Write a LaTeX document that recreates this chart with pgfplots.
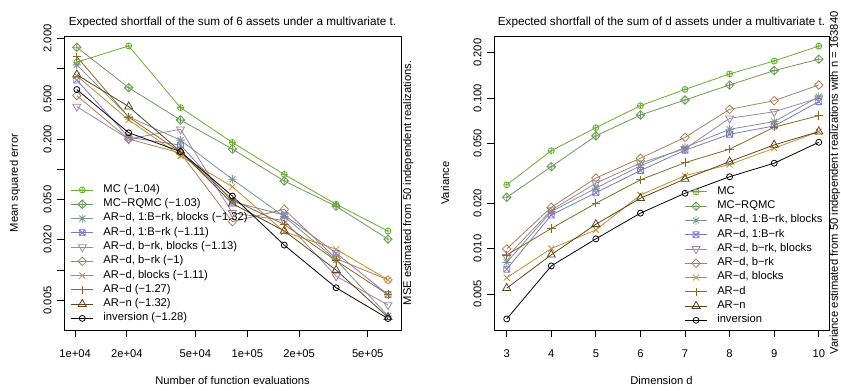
\documentclass[border=0pt]{standalone}
\usepackage{pgfplots}
\pgfplotsset{compat=1.18}
\usepackage{fontspec}
\setmainfont{Liberation Sans}
\definecolor{cMC}{RGB}{106,176,46}
\definecolor{cRQ}{RGB}{110,155,90}
\definecolor{cAst}{RGB}{125,148,145}
\definecolor{cSq}{RGB}{122,122,200}
\definecolor{cTd}{RGB}{155,135,160}
\definecolor{cDi}{RGB}{170,130,90}
\definecolor{cX}{RGB}{200,140,40}
\definecolor{cPl}{RGB}{140,104,34}
\definecolor{cTr}{RGB}{90,70,32}
\pgfdeclareplotmark{Rcirc}{\pgfpathcircle{\pgfpointorigin}{\pgfplotmarksize}\pgfusepathqstroke}
\pgfdeclareplotmark{Roplus}{\pgfpathcircle{\pgfpointorigin}{\pgfplotmarksize}%
 \pgfpathmoveto{\pgfqpoint{-\pgfplotmarksize}{0pt}}\pgfpathlineto{\pgfqpoint{\pgfplotmarksize}{0pt}}%
 \pgfpathmoveto{\pgfqpoint{0pt}{-\pgfplotmarksize}}\pgfpathlineto{\pgfqpoint{0pt}{\pgfplotmarksize}}\pgfusepathqstroke}
\pgfdeclareplotmark{Rdiam}{%
 \pgfpathmoveto{\pgfqpoint{0pt}{1.414\pgfplotmarksize}}\pgfpathlineto{\pgfqpoint{1.414\pgfplotmarksize}{0pt}}%
 \pgfpathlineto{\pgfqpoint{0pt}{-1.414\pgfplotmarksize}}\pgfpathlineto{\pgfqpoint{-1.414\pgfplotmarksize}{0pt}}\pgfpathclose\pgfusepathqstroke}
\pgfdeclareplotmark{Rdiamplus}{%
 \pgfpathmoveto{\pgfqpoint{0pt}{1.414\pgfplotmarksize}}\pgfpathlineto{\pgfqpoint{1.414\pgfplotmarksize}{0pt}}%
 \pgfpathlineto{\pgfqpoint{0pt}{-1.414\pgfplotmarksize}}\pgfpathlineto{\pgfqpoint{-1.414\pgfplotmarksize}{0pt}}\pgfpathclose
 \pgfpathmoveto{\pgfqpoint{-1.414\pgfplotmarksize}{0pt}}\pgfpathlineto{\pgfqpoint{1.414\pgfplotmarksize}{0pt}}%
 \pgfpathmoveto{\pgfqpoint{0pt}{-1.414\pgfplotmarksize}}\pgfpathlineto{\pgfqpoint{0pt}{1.414\pgfplotmarksize}}\pgfusepathqstroke}
\pgfdeclareplotmark{Rboxx}{%
 \pgfpathrectangle{\pgfqpoint{-\pgfplotmarksize}{-\pgfplotmarksize}}{\pgfqpoint{2\pgfplotmarksize}{2\pgfplotmarksize}}%
 \pgfpathmoveto{\pgfqpoint{-\pgfplotmarksize}{-\pgfplotmarksize}}\pgfpathlineto{\pgfqpoint{\pgfplotmarksize}{\pgfplotmarksize}}%
 \pgfpathmoveto{\pgfqpoint{-\pgfplotmarksize}{\pgfplotmarksize}}\pgfpathlineto{\pgfqpoint{\pgfplotmarksize}{-\pgfplotmarksize}}\pgfusepathqstroke}
\pgfdeclareplotmark{Rtri}{%
 \pgfpathmoveto{\pgfqpoint{0pt}{1.555\pgfplotmarksize}}\pgfpathlineto{\pgfqpoint{1.347\pgfplotmarksize}{-0.778\pgfplotmarksize}}%
 \pgfpathlineto{\pgfqpoint{-1.347\pgfplotmarksize}{-0.778\pgfplotmarksize}}\pgfpathclose\pgfusepathqstroke}
\pgfdeclareplotmark{Rtrid}{%
 \pgfpathmoveto{\pgfqpoint{0pt}{-1.555\pgfplotmarksize}}\pgfpathlineto{\pgfqpoint{1.347\pgfplotmarksize}{0.778\pgfplotmarksize}}%
 \pgfpathlineto{\pgfqpoint{-1.347\pgfplotmarksize}{0.778\pgfplotmarksize}}\pgfpathclose\pgfusepathqstroke}
\pgfdeclareplotmark{Rplus}{%
 \pgfpathmoveto{\pgfqpoint{-1.414\pgfplotmarksize}{0pt}}\pgfpathlineto{\pgfqpoint{1.414\pgfplotmarksize}{0pt}}%
 \pgfpathmoveto{\pgfqpoint{0pt}{-1.414\pgfplotmarksize}}\pgfpathlineto{\pgfqpoint{0pt}{1.414\pgfplotmarksize}}\pgfusepathqstroke}
\pgfdeclareplotmark{Rx}{%
 \pgfpathmoveto{\pgfqpoint{-\pgfplotmarksize}{-\pgfplotmarksize}}\pgfpathlineto{\pgfqpoint{\pgfplotmarksize}{\pgfplotmarksize}}%
 \pgfpathmoveto{\pgfqpoint{-\pgfplotmarksize}{\pgfplotmarksize}}\pgfpathlineto{\pgfqpoint{\pgfplotmarksize}{-\pgfplotmarksize}}\pgfusepathqstroke}
\pgfdeclareplotmark{Rast}{%
 \pgfpathmoveto{\pgfqpoint{-\pgfplotmarksize}{-\pgfplotmarksize}}\pgfpathlineto{\pgfqpoint{\pgfplotmarksize}{\pgfplotmarksize}}%
 \pgfpathmoveto{\pgfqpoint{-\pgfplotmarksize}{\pgfplotmarksize}}\pgfpathlineto{\pgfqpoint{\pgfplotmarksize}{-\pgfplotmarksize}}%
 \pgfpathmoveto{\pgfqpoint{-1.414\pgfplotmarksize}{0pt}}\pgfpathlineto{\pgfqpoint{1.414\pgfplotmarksize}{0pt}}%
 \pgfpathmoveto{\pgfqpoint{0pt}{-1.414\pgfplotmarksize}}\pgfpathlineto{\pgfqpoint{0pt}{1.414\pgfplotmarksize}}\pgfusepathqstroke}
\pgfplotsset{
 Rax/.style={scale only axis, width=252.75pt, height=220.5pt,
  axis line style={line width=0.6pt}, tick align=outside, major tick length=5.25pt,
  tick style={black,line width=0.6pt}, xtick pos=bottom, ytick pos=left, minor tick num=0,
  font=\fontsize{8.4}{10}\selectfont,
  /pgf/number format/assume math mode=true,
  yticklabel style={rotate=90, anchor=south, inner sep=0pt},
  xticklabel style={anchor=north, inner sep=0pt},
  yticklabel shift=4pt, xticklabel shift=9.5pt,
  every axis x label/.style={at={(axis description cs:0.5,0)}, anchor=center, yshift=-37.5pt},
  every axis y label/.style={at={(axis description cs:0,0.5)}, anchor=center, xshift=-36.75pt, rotate=90},
  title style={at={(axis description cs:0.5,1)}, anchor=base, yshift=2pt, font=\fontsize{8.8}{10}\selectfont},
  legend style={draw=none, fill=none, anchor=north west, font=\fontsize{8.4}{10}\selectfont,
    nodes={inner sep=0pt, text height=7.2pt, text depth=3.5pt}, row sep=0pt,
    /tikz/every odd column/.style={column sep=7.5pt}},
  legend cell align=left,
  legend image code/.code={\draw[mark repeat=2,mark phase=2] plot coordinates {(0pt,0pt) (8.1pt,0pt) (16.2pt,0pt)};},
  every axis plot/.append style={line width=0.6pt, mark size=2.25pt, mark options={solid}},
 }
}
\begin{document}
\begin{tikzpicture}
\begin{axis}[Rax, at={(48pt,45.75pt)}, anchor=south west,
  xmode=log, ymode=log, xmin=8630, xmax=7.8e5, ymin=0.00254, ymax=2.11,
  xtick={10000,20000,50000,100000,200000,500000},
  xticklabels={1e+04,2e+04,5e+04,1e+05,2e+05,5e+05},
  ytick={0.005,0.01,0.02,0.05,0.1,0.2,0.5,1,2},
  yticklabels={0.005,,0.020,0.050,,0.200,0.500,,2.000},
  xlabel={Number of function evaluations}, ylabel={Mean squared error},
  title={Expected shortfall of the sum of 6 assets under a multivariate t.},
  legend style={at={(axis description cs:0.0083,0.5105)}},
  clip=false]
\addplot[cMC, mark=Roplus] coordinates {(10240,1.16)(20480,1.68)(40960,0.41)(81920,0.185)(163840,0.089)(327680,0.045)(655360,0.0244)};
\addlegendentry{MC (−1.04)}
\addplot[cRQ, mark=Rdiamplus] coordinates {(10240,1.63)(20480,0.647)(40960,0.309)(81920,0.159)(163840,0.0766)(327680,0.043)(655360,0.0203)};
\addlegendentry{MC−RQMC (−1.03)}
\addplot[cAst, mark=Rast] coordinates {(10240,1.09)(20480,0.333)(40960,0.195)(81920,0.0796)(163840,0.034)(327680,0.0126)(655360,0.0035)};
\addlegendentry{AR−d, 1:B−rk, blocks (−1.32)}
\addplot[cSq, mark=Rboxx] coordinates {(10240,0.77)(20480,0.208)(40960,0.174)(81920,0.0477)(163840,0.0352)(327680,0.0147)(655360,0.0057)};
\addlegendentry{AR−d, 1:B−rk (−1.11)}
\addplot[cTd, mark=Rtrid] coordinates {(10240,0.42)(20480,0.20)(40960,0.25)(81920,0.037)(163840,0.031)(327680,0.0087)(655360,0.0045)};
\addlegendentry{AR−d, b−rk, blocks (−1.13)}
\addplot[cDi, mark=Rdiam] coordinates {(10240,0.54)(20480,0.20)(40960,0.145)(81920,0.0302)(163840,0.0401)(327680,0.013)(655360,0.0080)};
\addlegendentry{AR−d, b−rk (−1)}
\addplot[cX, mark=Rx] coordinates {(10240,0.85)(20480,0.31)(40960,0.136)(81920,0.0672)(163840,0.024)(327680,0.0161)(655360,0.0080)};
\addlegendentry{AR−d, blocks (−1.11)}
\addplot[cPl, mark=Rplus] coordinates {(10240,1.31)(20480,0.33)(40960,0.148)(81920,0.05)(163840,0.0284)(327680,0.0124)(655360,0.0057)};
\addlegendentry{AR−d (−1.27)}
\addplot[cTr, mark=Rtri] coordinates {(10240,0.87)(20480,0.42)(40960,0.15)(81920,0.0457)(163840,0.0245)(327680,0.0100)(655360,0.0034)};
\addlegendentry{AR−n (−1.32)}
\addplot[black, mark=Rcirc] coordinates {(10240,0.62)(20480,0.231)(40960,0.15)(81920,0.0543)(163840,0.0177)(327680,0.00667)(655360,0.0033)};
\addlegendentry{inversion (−1.28)}
\node[xshift=5.5pt, rotate=90, anchor=center, font=\fontsize{8.4}{10}\selectfont] at (axis description cs:1,0.5) {MSE estimated from 50 independent realizations.};
\end{axis}
\begin{axis}[Rax, at={(370.5pt,45.75pt)}, anchor=south west, width=251.25pt,
  ymode=log, xmin=2.715, xmax=10.23, ymin=0.00288, ymax=0.258,
  xtick={3,4,5,6,7,8,9,10},
  ytick={0.005,0.01,0.02,0.05,0.1,0.2},
  yticklabels={0.005,0.010,0.020,0.050,0.100,0.200},
  xlabel={Dimension d}, ylabel={Variance},
  title={Expected shortfall of the sum of d assets under a multivariate t.},
  legend style={at={(axis description cs:0.557,0.504)}},
  clip=false]
\addplot[cMC, mark=Roplus] coordinates {(3,0.0265)(4,0.0447)(5,0.0635)(6,0.0889)(7,0.114)(8,0.1445)(9,0.176)(10,0.221)};
\addlegendentry{MC}
\addplot[cRQ, mark=Rdiamplus] coordinates {(3,0.0219)(4,0.035)(5,0.056)(6,0.0771)(7,0.097)(8,0.122)(9,0.152)(10,0.181)};
\addlegendentry{MC−RQMC}
\addplot[cAst, mark=Rast] coordinates {(3,0.0081)(4,0.0176)(5,0.0252)(6,0.0355)(7,0.047)(8,0.062)(9,0.0697)(10,0.102)};
\addlegendentry{AR−d, 1:B−rk, blocks}
\addplot[cSq, mark=Rboxx] coordinates {(3,0.0073)(4,0.0167)(5,0.0235)(6,0.033)(7,0.045)(8,0.0574)(9,0.0652)(10,0.0946)};
\addlegendentry{AR−d, 1:B−rk}
\addplot[cTd, mark=Rtrid] coordinates {(3,0.0088)(4,0.018)(5,0.0272)(6,0.037)(7,0.046)(8,0.0733)(9,0.081)(10,0.100)};
\addlegendentry{AR−d, b−rk, blocks}
\addplot[cDi, mark=Rdiam] coordinates {(3,0.00995)(4,0.0188)(5,0.0294)(6,0.0398)(7,0.0548)(8,0.0841)(9,0.096)(10,0.122)};
\addlegendentry{AR−d, b−rk}
\addplot[cX, mark=Rx] coordinates {(3,0.00641)(4,0.0100)(5,0.0133)(6,0.0227)(7,0.0305)(8,0.0362)(9,0.0464)(10,0.0598)};
\addlegendentry{AR−d, blocks}
\addplot[cPl, mark=Rplus] coordinates {(3,0.00907)(4,0.0136)(5,0.0200)(6,0.0286)(7,0.0372)(8,0.0457)(9,0.064)(10,0.0763)};
\addlegendentry{AR−d}
\addplot[cTr, mark=Rtri] coordinates {(3,0.00546)(4,0.0091)(5,0.0145)(6,0.0216)(7,0.029)(8,0.0378)(9,0.0488)(10,0.0598)};
\addlegendentry{AR−n}
\addplot[black, mark=Rcirc] coordinates {(3,0.00341)(4,0.00767)(5,0.0116)(6,0.0172)(7,0.0233)(8,0.030)(9,0.0369)(10,0.0508)};
\addlegendentry{inversion}
\node[xshift=4.5pt, rotate=90, anchor=center, font=\fontsize{8.4}{10}\selectfont] at (axis description cs:1,0.5) {Variance estimated from 50 independent realizations with n = 163840};
\end{axis}
\pgfresetboundingbox
\path[use as bounding box] (0,0) rectangle (630.75pt,293.25pt);
\end{tikzpicture}
\end{document}
